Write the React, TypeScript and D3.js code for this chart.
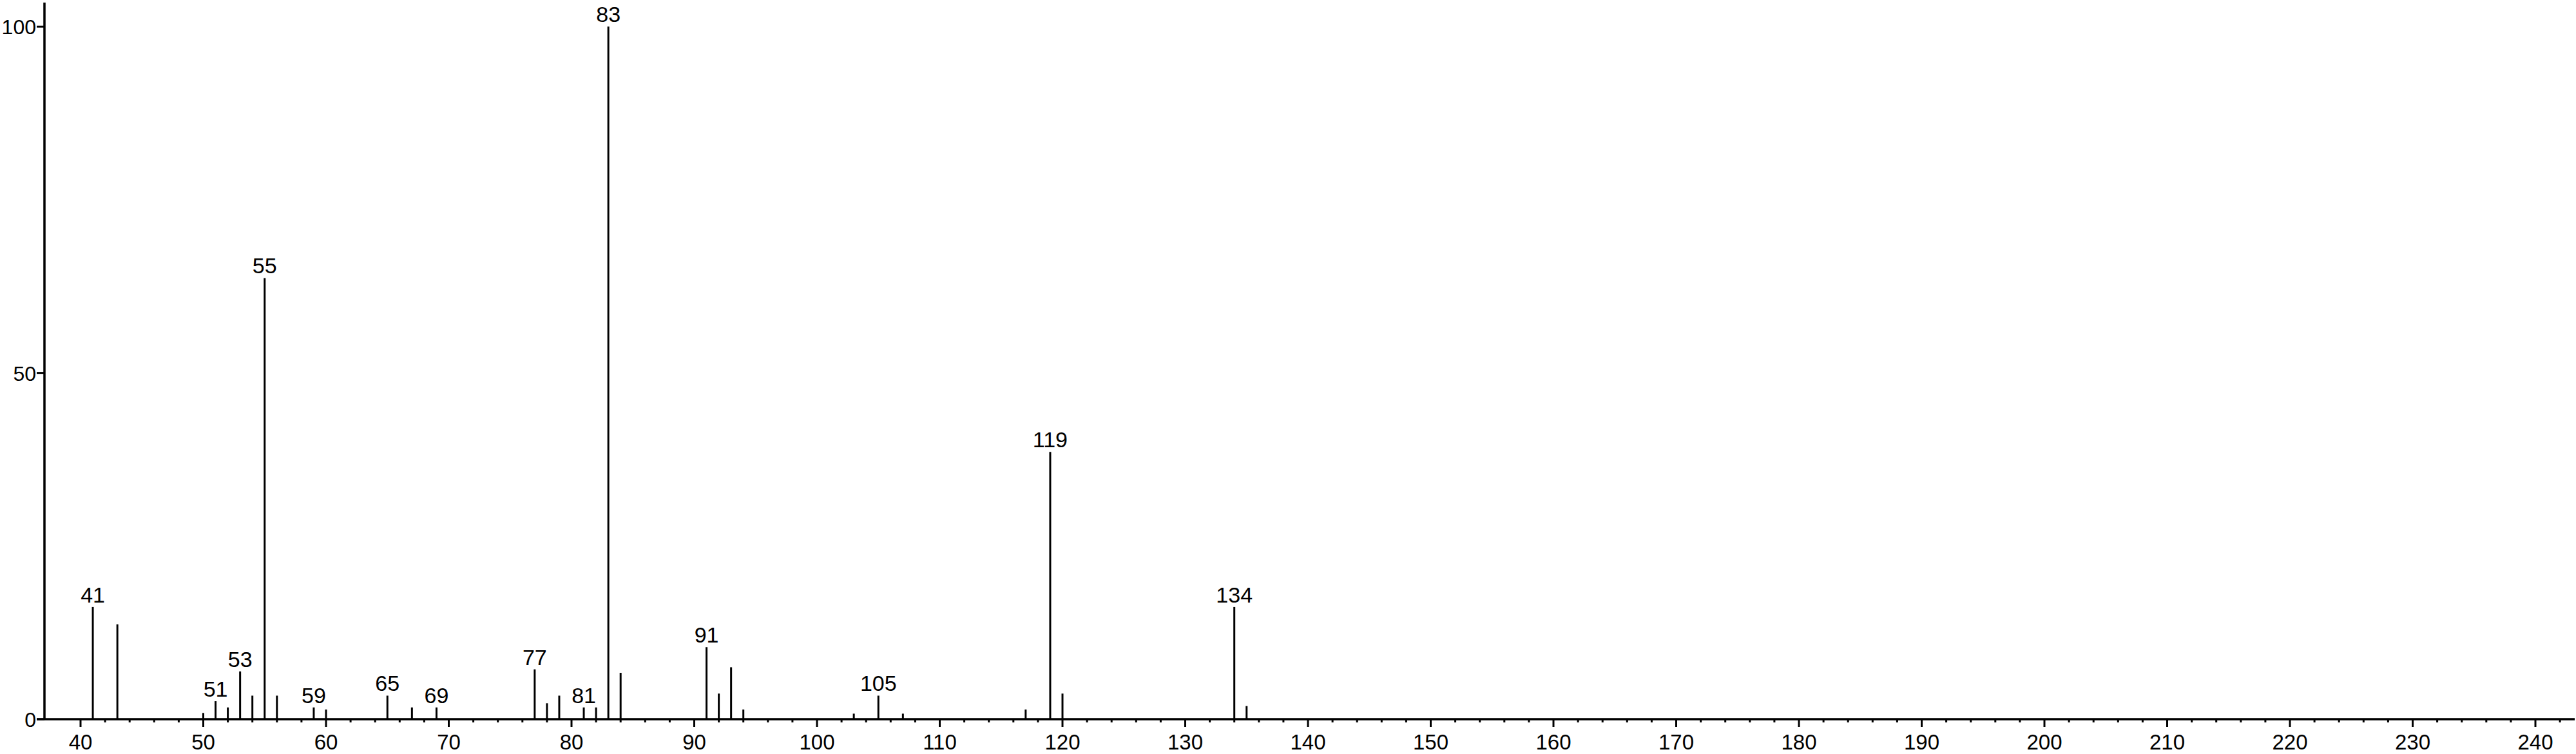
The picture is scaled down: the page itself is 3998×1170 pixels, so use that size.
import React from 'react';
import { scaleLinear, range } from 'd3';

// m/z of each peak and its relative abundance (%)
const masses = [41, 43, 50, 51, 52, 53, 54, 55, 56, 59, 60, 65, 67, 69, 77, 78, 79, 81, 82, 83, 84, 91, 92, 93, 94, 103, 105, 107, 117, 119, 120, 134, 135];
const abundances = [16.2, 13.7, 0.9, 2.6, 1.7, 6.9, 3.4, 63.7, 3.4, 1.7, 1.4, 3.4, 1.7, 1.7, 7.2, 2.3, 3.4, 1.7, 1.7, 100, 6.7, 10.4, 3.7, 7.5, 1.4, 0.8, 3.4, 0.8, 1.4, 38.6, 3.7, 16.2, 1.9];
const labelled = [41, 51, 53, 55, 59, 65, 69, 77, 81, 83, 91, 105, 119, 134];

const xTicks = range(40, 241, 10);
const xMinor = range(42, 243, 2);
const yTicks = [0, 50, 100];

const W = 3998;
const H = 1170;
const FONT = 'Liberation Sans, Arial, sans-serif';

const App = () => {
  const x = scaleLinear().domain([40, 240]).range([125, 3935]);
  const y = scaleLinear().domain([0, 100]).range([1116, 41.3]);
  const axisX = 69;
  const base = y(0);

  return (
    <svg
      width={W}
      height={H}
      style={{ position: 'absolute', left: 0, top: 0, background: '#fff' }}
    >
      {/* y axis */}
      <line x1={axisX} x2={axisX} y1={4} y2={base} stroke='#000' strokeWidth={3.5} />
      {yTicks.map((t) => (
        <g key={'y' + t}>
          <line x1={axisX - 12} x2={axisX} y1={y(t)} y2={y(t)} stroke='#000' strokeWidth={3} />
          <text
            x={axisX - 13}
            y={y(t) + 12}
            fontFamily={FONT}
            fontSize='32'
            textAnchor='end'
            fill='#000'
          >
            {t}
          </text>
        </g>
      ))}

      {/* x axis */}
      <line x1={axisX - 12} x2={3996} y1={base} y2={base} stroke='#000' strokeWidth={3.5} />
      {xMinor
        .filter((t) => t % 10 !== 0)
        .map((t) => (
          <line key={'m' + t} x1={x(t)} x2={x(t)} y1={base} y2={base + 5} stroke='#000' strokeWidth={3} />
        ))}
      {xTicks.map((t) => (
        <g key={'x' + t}>
          <line x1={x(t)} x2={x(t)} y1={base} y2={base + 12} stroke='#000' strokeWidth={3} />
          <text
            x={x(t)}
            y={1163}
            fontFamily={FONT}
            fontSize='33'
            textAnchor='middle'
            fill='#000'
          >
            {t}
          </text>
        </g>
      ))}

      {/* peaks */}
      {masses.map((m, i) => (
        <line
          key={'p' + m}
          x1={x(m)}
          x2={x(m)}
          y1={base}
          y2={y(abundances[i])}
          stroke='#000'
          strokeWidth={3}
        />
      ))}
      {masses.map((m, i) =>
        labelled.includes(m) ? (
          <text
            key={'l' + m}
            x={x(m)}
            y={y(abundances[i]) - 7}
            fontFamily={FONT}
            fontSize='34'
            textAnchor='middle'
            fill='#000'
          >
            {m}
          </text>
        ) : null
      )}
    </svg>
  );
};

export default App;
